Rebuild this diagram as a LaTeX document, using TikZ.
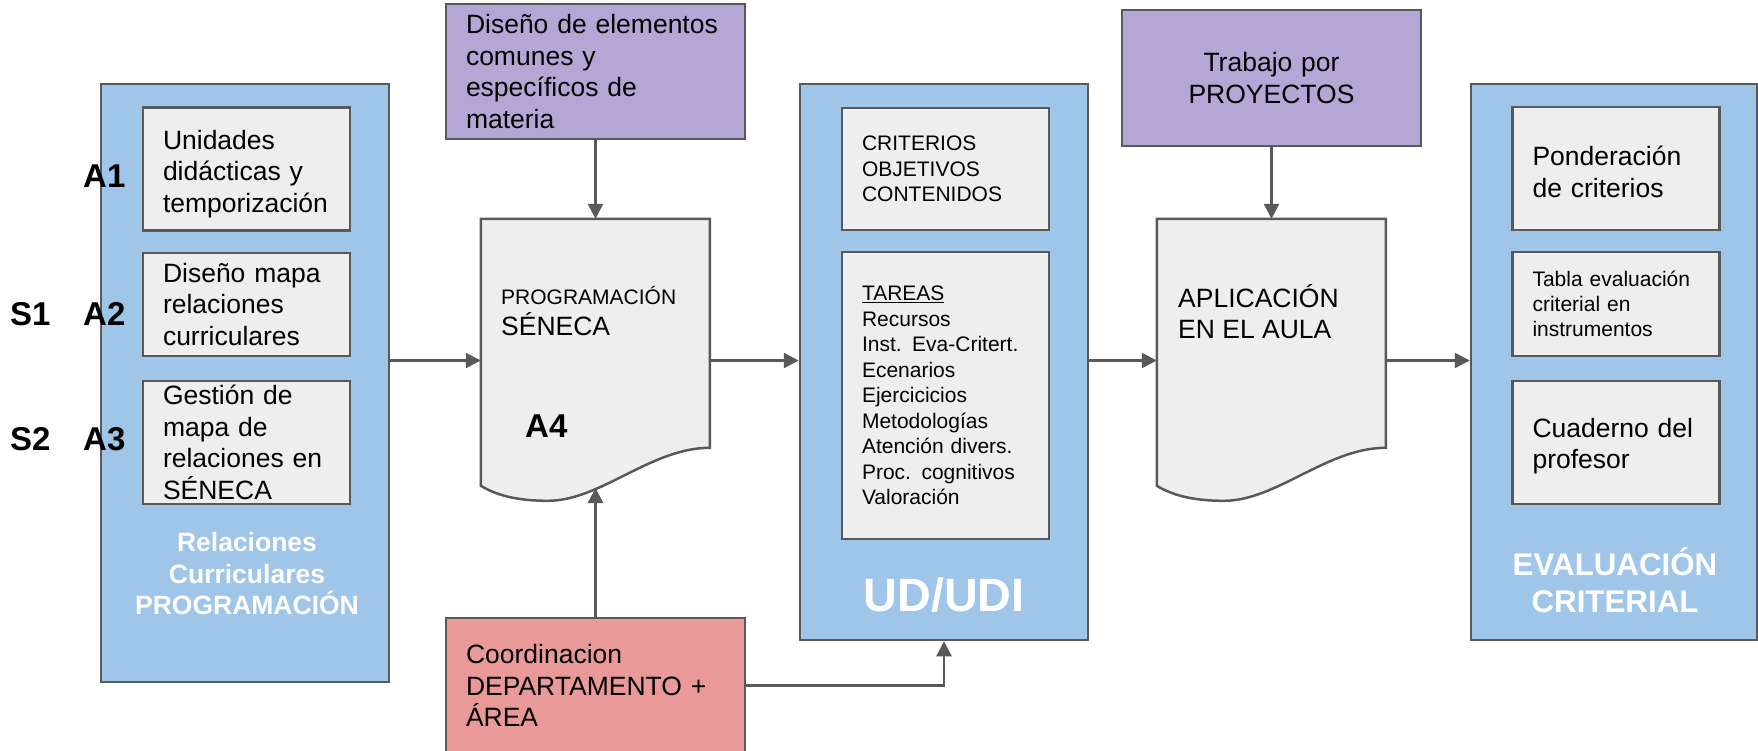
\documentclass[tikz,border=0pt]{standalone}
\usepackage{fontspec}
\setmainfont{Liberation Sans}
\usetikzlibrary{%
		arrows.meta%
	}
\definecolor{azul}{HTML}{9FC5E8}
\definecolor{gris}{HTML}{EEEEEE}
\definecolor{lila}{HTML}{B4A7D6}
\definecolor{rosa}{HTML}{EA9999}
\definecolor{linea}{HTML}{595959}
\hyphenpenalty=10000
\exhyphenpenalty=10000

\begin{document}
\begin{tikzpicture}[x=1pt,y=-1pt,
		bloque/.style={draw=linea, line width=2.5pt, fill=azul, minimum width=288pt, inner sep=0pt},
		caja/.style={draw=linea, line width=2.5pt, fill=gris, minimum width=207pt, text width=167pt, inner xsep=20pt, inner ysep=0pt, align=left, font=\fontsize{26.5}{31.5}\selectfont},
		nota/.style={draw=linea, line width=2.5pt, minimum width=299pt, text width=259pt, inner xsep=20pt, inner ysep=0pt, font=\fontsize{26.5}{31.5}\selectfont},
		hoja/.style={minimum width=229pt, minimum height=283pt, inner sep=0pt},
		papel/.style={draw=linea, line width=2.5pt, fill=gris},
		texto/.style={anchor=base west, inner sep=0pt, font=\fontsize{26.5}{31.5}\selectfont},
		titulo/.style={text=white, font=\bfseries\fontsize{26.5}{31.5}\selectfont, align=center, inner sep=0pt},
		etiq/.style={font=\bfseries\fontsize{33}{40}\selectfont, inner sep=0pt, anchor=base west},
		flecha/.style={draw=linea, line width=2.5pt, -{Triangle[length=15pt,width=15pt]}}
	]
			\useasboundingbox (0,0) rectangle (1758,751);

			% bloques azules
			\node[bloque, minimum height=598pt] (rel) at (245,383) {};
			\node[bloque, minimum height=556pt] (ud) at (944,362) {};
			\node[bloque, minimum height=556pt, minimum width=286pt] (eva) at (1614,362) {};

			\node[caja, minimum height=123pt] (a1) at (246.5,169) {\rule{0pt}{29pt}Unidades\\didácticas y\\temporización};
			\node[caja, minimum height=103pt] (a2) at (246.5,304.5) {Diseño mapa\\relaciones\\curriculares};
			\node[caja, minimum height=123pt] (a3) at (246.5,442.5) {Gestión de\\mapa de\\relaciones en\\SÉNECA};
			\node[titulo] (tit1) at (247,574) {Relaciones\\Curriculares\\PROGRAMACIÓN};

			\node[caja, minimum height=122pt, font=\fontsize{21}{25.5}\selectfont] (crit) at (945.5,169) {CRITERIOS\\OBJETIVOS\\CONTENIDOS};
			\node[caja, minimum height=287pt, font=\fontsize{21}{25.5}\selectfont] (tareas) at (945.5,395.5) {\underline{TAREAS}\\Recursos\\Inst. Eva-Critert.\\Ecenarios\\Ejercicicios\\Metodologías\\Atención divers.\\Proc. cognitivos\\Valoración};
			\node[titulo, font=\bfseries\fontsize{46.7}{50}\selectfont, anchor=base] (tit2) at (944,611) {UD/UDI};

			\node[caja, minimum height=123pt] (pond) at (1616,168.5) {\rule{0pt}{26pt}Ponderación\\de criterios};
			\node[caja, minimum height=103.5pt, font=\fontsize{21}{25}\selectfont] (tabla) at (1616,304) {Tabla evaluación\\criterial en\\instrumentos};
			\node[caja, minimum height=123pt] (cuad) at (1616,442.5) {\rule{0pt}{26pt}Cuaderno del\\profesor};
			\node[titulo, font=\bfseries\fontsize{31.3}{37}\selectfont] (tit3) at (1615,580) {EVALUACIÓN\\CRITERIAL};

			% etiquetas
			\node[etiq] (s1) at (10,325) {S1};
			\node[etiq] (s2) at (10,450) {S2};
			\node[etiq] (l1) at (83,188) {A1};
			\node[etiq] (l2) at (83,325) {A2};
			\node[etiq] (l3) at (83,450) {A3};

			% notas
			\node[nota, fill=lila, minimum height=135pt, align=left] (lila1) at (595.5,71.5) {Diseño de elementos\\comunes y\\específicos de\\materia};
			\node[nota, fill=rosa, minimum height=135pt, align=left] (coord) at (595.5,685.5) {Coordinacion\\DEPARTAMENTO +\\ÁREA};
			\node[nota, fill=lila, minimum height=136pt, align=center] (lila2) at (1271.5,78) {Trabajo por\\PROYECTOS};

			% documentos
			\node[hoja] (doc1) at (595.5,360.5) {};
			\node[hoja] (doc2) at (1271.5,360.5) {};
			\draw[papel, shift={(doc1.north west)}] (0,0) -- (229,0) -- (229,229) .. controls (170,229) and (120,282) .. (67,282) .. controls (35,282) and (15,276) .. (0,267) -- cycle;
			\draw[papel, shift={(doc2.north west)}] (0,0) -- (229,0) -- (229,229) .. controls (170,229) and (120,282) .. (67,282) .. controls (35,282) and (15,276) .. (0,267) -- cycle;
			\coordinate (tope) at (595.5,488);

			\node[texto, font=\fontsize{21}{25}\selectfont] (prog) at (501,305) {PROGRAMACIÓN};
			\node[texto] (sen) at (501,335) {SÉNECA};
			\node[etiq] (a4) at (525,437) {A4};
			\node[texto] (apl) at (1178,307) {APLICACIÓN};
			\node[texto] (aula) at (1178,338) {EN EL AULA};

			% flechas
			\draw[flecha] (rel.east |- doc1.west) -- (doc1.west);
			\draw[flecha] (lila1.south) -- (doc1.north);
			\draw[flecha] (coord.north) -- (coord.north |- tope);
			\draw[flecha] (doc1.east) -- (doc1.east -| ud.west);
			\draw[flecha] (coord.east) -| (ud.south);
			\draw[flecha] (ud.east |- doc2.west) -- (doc2.west);
			\draw[flecha] (lila2.south) -- (doc2.north);
			\draw[flecha] (doc2.east) -- (doc2.east -| eva.west);
		\end{tikzpicture}
\end{document}
